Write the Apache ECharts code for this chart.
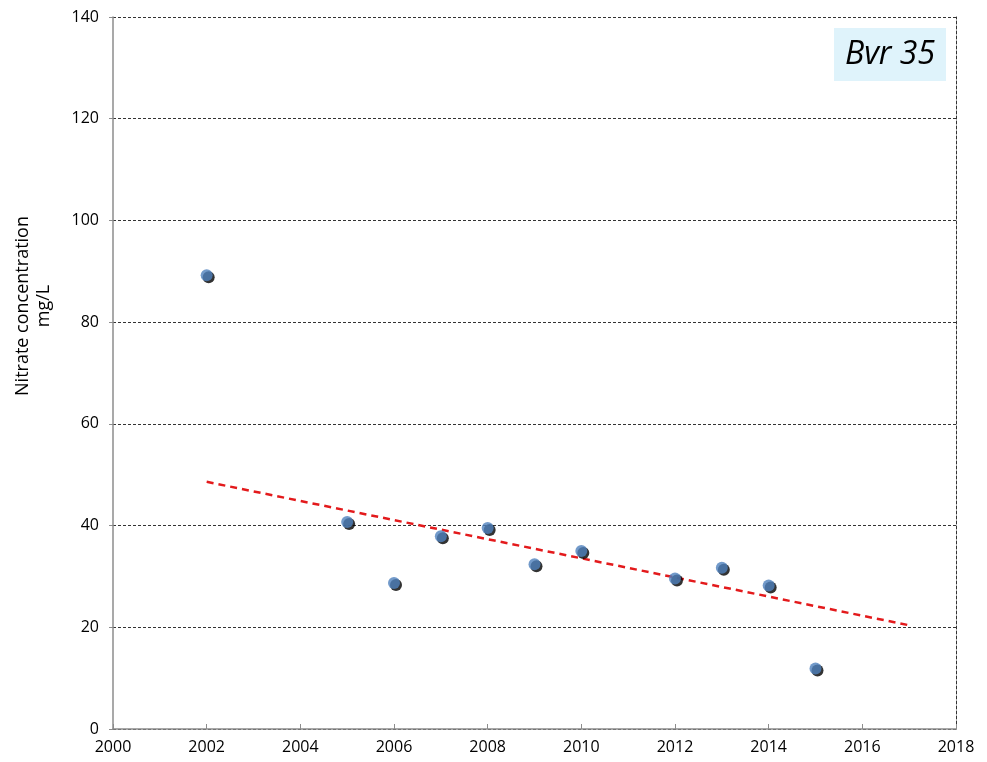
<!DOCTYPE html>
<html>
<head>
<meta charset="utf-8">
<script src="https://cdn.jsdelivr.net/npm/echarts@6/dist/echarts.min.js"></script>
<style>
  html, body { margin: 0; padding: 0; background: #fff; }
  #chart { width: 987px; height: 762px; }
</style>
</head>
<body>
<div id="chart"></div>
<script>
// Annual nitrate samples for well Bvr 35
const years = [2002, 2005, 2006, 2007, 2008, 2009, 2010, 2012, 2013, 2014, 2015];
const nitrate = [89.2, 40.7, 28.7, 37.9, 39.5, 32.4, 35.0, 29.6, 31.7, 28.2, 11.9];
// Linear trend end points
const trendYears = [2002, 2017];
const trendValues = [48.6, 20.4];
const yTicks = [0, 20, 40, 60, 80, 100, 120, 140];
const xTicks = [2000, 2002, 2004, 2006, 2008, 2010, 2012, 2014, 2016, 2018];
const stationName = 'Bvr 35';
const yAxisTitle = 'Nitrate concentration\nmg/L';

const font = 'Open Sans, Noto Sans, sans-serif';
const chart = echarts.init(document.getElementById('chart'));
const points = years.map((y, i) => [y, nitrate[i]]);

chart.setOption({
  animation: false,
  backgroundColor: '#fff',
  grid: { left: 113, right: 31, top: 17, bottom: 33, outerBoundsMode: 'none', containLabel: false },
  graphic: [{
    type: 'group',
    right: 41,
    top: 28,
    children: [
      { type: 'rect', shape: { x: 0, y: 0, width: 112, height: 53 }, style: { fill: '#dff3fb' } },
      { type: 'text', x: 56, y: 27, style: { text: stationName, fill: '#000', font: 'italic 32px ' + font, align: 'center', verticalAlign: 'middle' } }
    ]
  }, {
    // vertical axis title, set a little above the plot's middle
    type: 'text',
    x: 33,
    y: 306,
    rotation: Math.PI / 2,
    style: {
      text: yAxisTitle,
      fill: '#000',
      font: '18px ' + font,
      lineHeight: 21,
      align: 'center',
      verticalAlign: 'middle'
    }
  }],
  xAxis: {
    type: 'value',
    min: xTicks[0],
    max: xTicks[xTicks.length - 1],
    interval: 2,
    axisLine: { show: true, lineStyle: { color: '#8c8c8c', width: 1.5 } },
    axisTick: { show: true, inside: true, length: 5, lineStyle: { color: '#8c8c8c' } },
    axisLabel: { color: '#000', fontSize: 16, fontFamily: font, margin: 10, formatter: v => String(v) },
    splitLine: { show: false }
  },
  yAxis: [{
    type: 'value',
    min: yTicks[0],
    max: yTicks[yTicks.length - 1],
    interval: 20,
    axisLine: { show: true, lineStyle: { color: '#8c8c8c', width: 1.5 } },
    axisTick: { show: true, length: 4, lineStyle: { color: '#8c8c8c' } },
    axisLabel: { color: '#000', fontSize: 16, fontFamily: font, margin: 14, formatter: v => String(v) },
    splitLine: { show: true, lineStyle: { color: '#333', type: [3, 2], width: 1 } }
  }, {
    type: 'value',
    position: 'right',
    min: yTicks[0],
    max: yTicks[yTicks.length - 1],
    interval: 20,
    axisLine: { show: true, lineStyle: { color: '#333', type: [3, 2], width: 1 } },
    axisTick: { show: false },
    axisLabel: { show: false },
    splitLine: { show: false }
  }],
  series: [{
    // dark offset disc under each sample
    type: 'scatter',
    data: points,
    symbol: 'circle',
    symbolSize: 12,
    symbolOffset: [2, 2],
    itemStyle: { color: '#000' },
    silent: true,
    z: 3
  }, {
    type: 'scatter',
    data: points,
    symbol: 'circle',
    symbolSize: 12,
    itemStyle: { color: '#4f81bd' },
    z: 4
  }, {
    type: 'line',
    data: trendYears.map((y, i) => [y, trendValues[i]]),
    symbol: 'none',
    lineStyle: { color: '#e31a1c', width: 2.5, type: [7, 5] },
    z: 2
  }]
});
</script>
</body>
</html>
